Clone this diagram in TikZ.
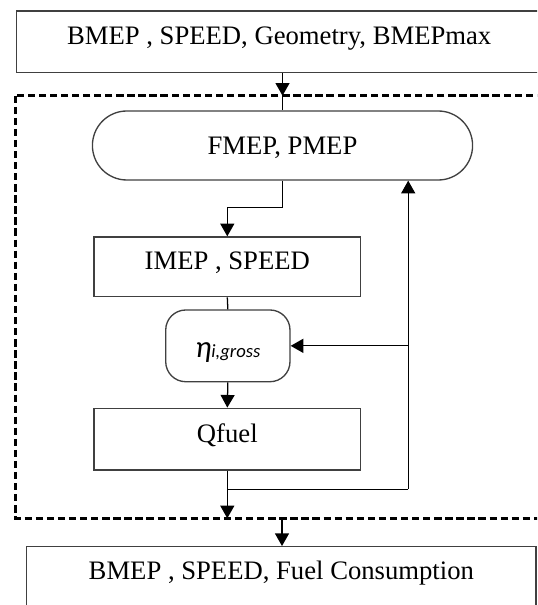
\documentclass[tikz,border=0pt]{standalone}
\usepackage{fontspec}
\setmainfont{Liberation Serif}
\newfontfamily\etafont{Carlito}
\usetikzlibrary{arrows.meta}

\tikzset{
  box/.style={draw=black!75, line width=1pt, fill=white, inner sep=0pt,
    font=\fontsize{20}{24}\selectfont, text height=14.25pt, text depth=9.75pt},
  roundbox/.style={box, rounded corners=#1, text depth=0pt},
  flow/.style={line width=0.95pt, -{Triangle[length=9.5pt,width=10.5pt]}},
  link/.style={line width=0.95pt},
  dashbox/.style={line width=2pt, dash pattern=on 5.5pt off 2.8pt}
}

\begin{document}
\begin{tikzpicture}[x=0.75pt,y=0.75pt,yscale=-1,xscale=1]
	%set diagram size 537 x 605
	\useasboundingbox (0,0) rectangle (537,605);
	\clip (0,0) rectangle (537,605);
	
	%Shape: Dashed frame
	\draw [dashbox] (15.7,95.7) rectangle (560,518.3);
	\coordinate (ftop) at (282.5,95.7);
	\coordinate (qout) at (227.3,518.3);
	\coordinate (fout) at (282,518.3);
	
	%Shape: Rectangle [input]
	\node [box, minimum width=394.2pt, minimum height=46.3pt] (input) at (279.2,41.85) {BMEP , SPEED, Geometry, BMEPmax};
	%Shape: Rounded Rectangle [fmep]
	\node [roundbox=25.8pt, minimum width=285.1pt, minimum height=51.75pt] (fmep) at (282.5,145.5) {FMEP, PMEP};
	%Shape: Rectangle [imep]
	\node [box, minimum width=200pt, minimum height=44.8pt] (imep) at (227.3,266.85) {IMEP , SPEED};
	%Shape: Rounded Rectangle [eta]
	\node [roundbox=15pt, text height=17.25pt, minimum width=93.2pt, minimum height=53.8pt] (eta) at (227.85,345.85)
	  {\etafont\itshape\fontsize{23}{24}\selectfont η\fontsize{14}{16}\selectfont i,gross};
	%Shape: Rectangle [qfuel]
	\node [box, minimum width=200pt, minimum height=46.3pt] (qfuel) at (227.3,439.15) {Qfuel};
	%Shape: Rectangle [output]
	\node [box, minimum width=382pt, minimum height=45pt] (output) at (281.35,576.7) {BMEP , SPEED, Fuel Consumption};
	
	%Straight Lines
	\draw [flow] (input.south -| ftop) -- (ftop);
	\draw [link] (ftop) -- (fmep.north);
	\draw [flow] (fmep.south) -- ++(0,26.7) -| (imep.north);
	\draw [link] (imep.south) -- (eta.north);
	\draw [flow] (eta.south) -- (qfuel.north);
	\draw [flow] (qfuel.south) -- (qout);
	%Feedback loop
	\coordinate (rloop) at (408.2,489.3);
	\draw [link] (qfuel.south |- rloop) -- (rloop);
	\draw [flow] (rloop) -- (rloop |- fmep.south);
	\draw [flow] (rloop |- eta.east) -- (eta.east);
	\draw [flow] (fout) -- (fout |- output.north);
	
\end{tikzpicture}
\end{document}
